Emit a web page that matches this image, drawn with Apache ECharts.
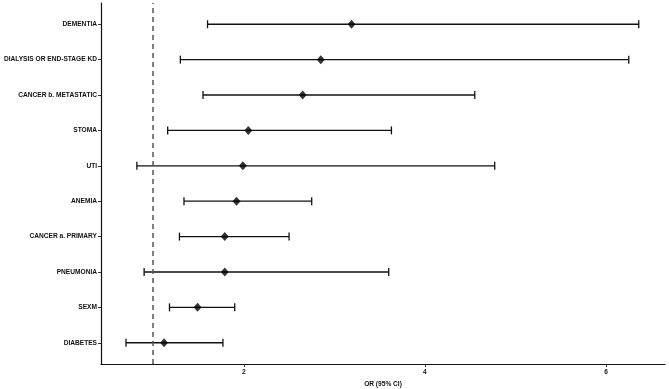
<!DOCTYPE html>
<html>
<head>
<meta charset="utf-8">
<script src="https://cdn.jsdelivr.net/npm/echarts@6/dist/echarts.min.js"></script>
<style>
  html, body { margin: 0; padding: 0; background: #fff; }
  #chart { width: 669px; height: 389px; }
</style>
</head>
<body>
<div id="chart"></div>
<script>
// rows from top to bottom
var categories = ['DEMENTIA', 'DIALYSIS OR END-STAGE KD', 'CANCER b. METASTATIC', 'STOMA', 'UTI',
                  'ANEMIA', 'CANCER a. PRIMARY', 'PNEUMONIA', 'SEXM', 'DIABETES'];
var orValues = [3.19, 2.85, 2.65, 2.05, 1.99, 1.92, 1.79, 1.79, 1.49, 1.12];
var ciLower  = [1.60, 1.30, 1.55, 1.16, 0.82, 1.34, 1.29, 0.90, 1.18, 0.70];
var ciUpper  = [6.36, 6.25, 4.55, 3.63, 4.77, 2.75, 2.50, 3.60, 1.90, 1.77];
var xTicks = [2, 4, 6];
var refLine = 1;

drawForest();

function drawForest() {
	var myChart = echarts.init(document.getElementById('chart'));
	var n = categories.length;
	var rowPos = categories.map(function (c, i) { return n - i; });
	var ciData = categories.map(function (c, i) { return [ciLower[i], ciUpper[i], rowPos[i]]; });
	var ptData = categories.map(function (c, i) { return [orValues[i], rowPos[i]]; });
	var labelFont = { fontFamily: 'Liberation Sans', fontWeight: 'bold', fontSize: 6.6, color: '#111' };
	var option = {
		animation: false,
		grid: { left: 101, right: 4, top: 3, bottom: 25, outerBoundsMode: 'none', containLabel: false },
		xAxis: {
			type: 'value',
			min: 0.424,
			max: 6.65,
			name: 'OR (95% CI)',
			nameLocation: 'middle',
			nameGap: 12,
			nameTextStyle: labelFont,
			splitLine: { show: false },
			axisLine: { lineStyle: { color: '#111', width: 1.2 } },
			axisTick: { customValues: xTicks, length: 3, lineStyle: { color: '#333' } },
			axisLabel: Object.assign({ customValues: xTicks, margin: 5 }, labelFont)
		},
		yAxis: {
			type: 'value',
			min: 0.4,
			max: n + 0.6,
			splitLine: { show: false },
			axisLine: { show: true, lineStyle: { color: '#111', width: 1.2 } },
			axisTick: { show: true, customValues: rowPos, length: 3, lineStyle: { color: '#333' } },
			axisLabel: Object.assign({
				customValues: rowPos,
				margin: 4,
				formatter: function (v) { return categories[n - Math.round(v)]; }
			}, labelFont)
		},
		series: [
			{
				type: 'custom',
				data: ciData,
				renderItem: function (params, api) {
					var a = api.coord([api.value(0), api.value(2)]);
					var b = api.coord([api.value(1), api.value(2)]);
					var h = 4;
					var style = { stroke: '#111', lineWidth: 1.3 };
					return {
						type: 'group',
						children: [
							{ type: 'line', shape: { x1: a[0], y1: a[1], x2: b[0], y2: b[1] }, style: style },
							{ type: 'line', shape: { x1: a[0], y1: a[1] - h, x2: a[0], y2: a[1] + h }, style: style },
							{ type: 'line', shape: { x1: b[0], y1: b[1] - h, x2: b[0], y2: b[1] + h }, style: style }
						]
					};
				},
				markLine: {
					silent: true,
					symbol: 'none',
					label: { show: false },
					lineStyle: { type: [5, 4], color: '#555', width: 1.5 },
					data: [{ xAxis: refLine }]
				},
				z: 2
			},
			{
				type: 'scatter',
				data: ptData,
				symbol: 'diamond',
				symbolSize: [8, 9],
				itemStyle: { color: '#000' },
				z: 3
			}
		]
	};
	myChart.setOption(option);
}
</script>
</body>
</html>
